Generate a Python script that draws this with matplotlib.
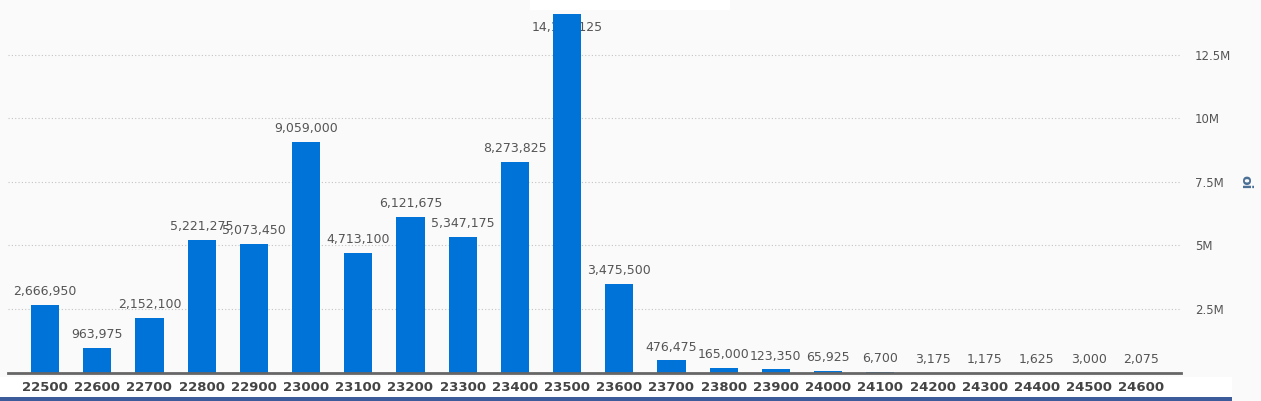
import matplotlib
matplotlib.use("Agg")
import matplotlib.pyplot as plt
from matplotlib.patches import Rectangle

strikes = ["22500", "22600", "22700", "22800", "22900", "23000", "23100", "23200",
           "23300", "23400", "23500", "23600", "23700", "23800", "23900", "24000",
           "24100", "24200", "24300", "24400", "24500", "24600"]
oi_values = [2666950, 963975, 2152100, 5221275, 5073450, 9059000, 4713100, 6121675,
             5347175, 8273825, 14111125, 3475500, 476475, 165000, 123350, 65925,
             6700, 3175, 1175, 1625, 3000, 2075]
y_ticks = [2500000, 5000000, 7500000, 10000000, 12500000]
y_tick_labels = ["2.5M", "5M", "7.5M", "10M", "12.5M"]
y_label = "oi"

W, H = 1261, 401
fig = plt.figure(figsize=(W / 100, H / 100), dpi=100)
fig.patch.set_facecolor("#fafafa")

# white band under axis and blue bottom strip, white patch at top
fig.add_artist(Rectangle((0, 3 / H), 1232 / W, 21 / H, transform=fig.transFigure,
                         facecolor="white", edgecolor="none", zorder=0))
fig.add_artist(Rectangle((0, 0), 1232 / W, 4 / H, transform=fig.transFigure,
                         facecolor="#3b5b9a", edgecolor="none", zorder=0))
fig.add_artist(Rectangle((530 / W, 1 - 10 / H), 200 / W, 10 / H, transform=fig.transFigure,
                         facecolor="white", edgecolor="none", zorder=0))

left, right = 8 / W, 1181 / W
bottom = 1 - 372.6 / H
ax = fig.add_axes([left, bottom, right - left, 1 - bottom])
ax.set_facecolor("none")

x = list(range(len(strikes)))
ymax = 372.6 / 63.6 * 2500000
ax.bar(x, oi_values, width=0.54, color="#0073d9", zorder=3)
ax.set_xlim(-0.709, 21.76)
ax.set_ylim(0, ymax)

for xi, v in zip(x, oi_values):
    label = f"{v:,}"
    if v > ymax * 0.88:
        ax.annotate(label, xy=(xi, 0.925), xycoords=("data", "axes fraction"),
                    ha="center", va="center", fontsize=9, color="#555555", zorder=2)
    else:
        ax.annotate(label, xy=(xi, v), xytext=(0, 5), textcoords="offset points",
                    ha="center", va="bottom", fontsize=9, color="#555555", zorder=4)

ax.set_xticks(x)
ax.set_xticklabels(strikes, fontsize=9.5, fontweight="bold", color="#444444")
ax.tick_params(axis="x", length=0, pad=6)

ax.yaxis.tick_right()
ax.set_yticks(y_ticks)
ax.set_yticklabels(y_tick_labels, fontsize=8.5, color="#555555")
ax.tick_params(axis="y", length=0, pad=10)
ax.yaxis.grid(True, linestyle=(0, (1, 2)), color="#c4c4c4", linewidth=0.8, zorder=0)
ax.set_axisbelow(True)

for s in ["top", "left", "right"]:
    ax.spines[s].set_visible(False)
ax.spines["bottom"].set_color("#666666")
ax.spines["bottom"].set_linewidth(2)
ax.spines["bottom"].set_zorder(5)

fig.text(1245 / W, 1 - 182 / H, y_label, rotation=270, ha="center", va="center",
         fontsize=10, fontweight="bold", color="#4a6f96")

fig.savefig("out.png", dpi=100, facecolor=fig.get_facecolor())
